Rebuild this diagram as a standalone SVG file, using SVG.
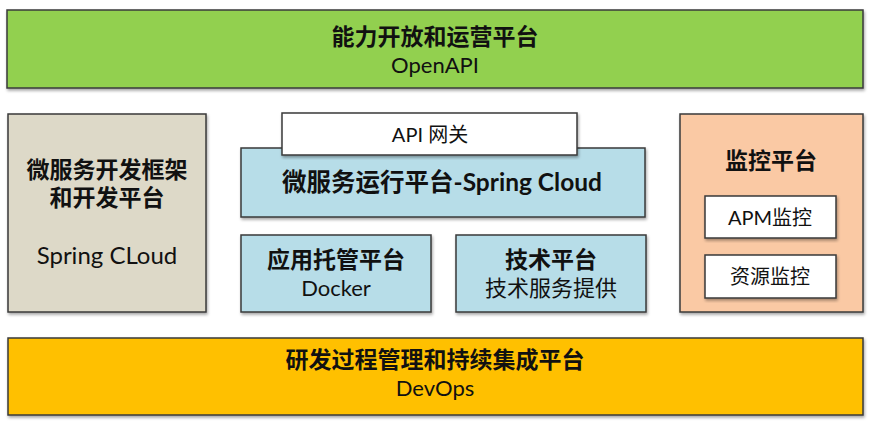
<svg xmlns="http://www.w3.org/2000/svg" width="872" height="424" viewBox="0 0 872 424">
<defs>
<filter id="sh" x="-5%" y="-5%" width="110%" height="115%">
<feDropShadow dx="1" dy="2" stdDeviation="1.5" flood-color="#000" flood-opacity="0.35"/>
</filter>
</defs>
<style>
rect{stroke:#3a3a3a;stroke-width:1.5;filter:url(#sh)}
text{font-family:Lato,"Noto Sans CJK SC",sans-serif;text-anchor:middle;fill:#111}
.b{font-weight:bold;font-size:23px}
.r{font-size:22px}
.s{font-size:20px}
</style>
<rect width="872" height="424" fill="#fff" style="stroke:none;filter:none"/>
<g id="openapi">
<rect x="7" y="10" width="856" height="78" fill="#92D050"/>
<text class="b" x="435" y="45">能力开放和运营平台</text>
<text class="r" x="435" y="73">OpenAPI</text>
</g>
<g id="devframework">
<rect x="8" y="114" width="198" height="198" fill="#DDD9C8"/>
<text class="b" x="107" y="178">微服务开发框架</text>
<text class="b" x="107" y="206">和开发平台</text>
<text class="r" x="107" y="264" style="font-size:24px">Spring CLoud</text>
</g>
<g id="runtime">
<rect x="241" y="148" width="404" height="69" fill="#B7DDE8"/>
<text class="b" x="442" y="191" style="font-size:24.5px">微服务运行平台-Spring Cloud</text>
</g>
<g id="gateway">
<rect x="282" y="113" width="295" height="42" fill="#fff"/>
<text class="s" x="430" y="142">API 网关</text>
</g>
<g id="docker">
<rect x="241" y="235" width="190" height="77" fill="#B7DDE8"/>
<text class="b" x="336" y="268">应用托管平台</text>
<text class="r" x="336" y="296">Docker</text>
</g>
<g id="tech">
<rect x="456" y="235" width="190" height="77" fill="#B7DDE8"/>
<text class="b" x="551" y="268">技术平台</text>
<text class="r" x="551" y="296">技术服务提供</text>
</g>
<g id="monitor">
<rect x="680" y="114" width="183" height="198" fill="#FAC9A4"/>
<text class="b" x="771" y="169">监控平台</text>
</g>
<g id="apm">
<rect x="705" y="196" width="131" height="42" fill="#fff"/>
<text class="s" x="770" y="225">APM监控</text>
</g>
<g id="resource">
<rect x="705" y="255" width="131" height="43" fill="#fff"/>
<text class="s" x="770" y="284">资源监控</text>
</g>
<g id="devops">
<rect x="8" y="338" width="855" height="77" fill="#FFC000"/>
<text class="b" x="435" y="368">研发过程管理和持续集成平台</text>
<text class="r" x="435" y="396">DevOps</text>
</g>
<g id="connectors"/>
</svg>
